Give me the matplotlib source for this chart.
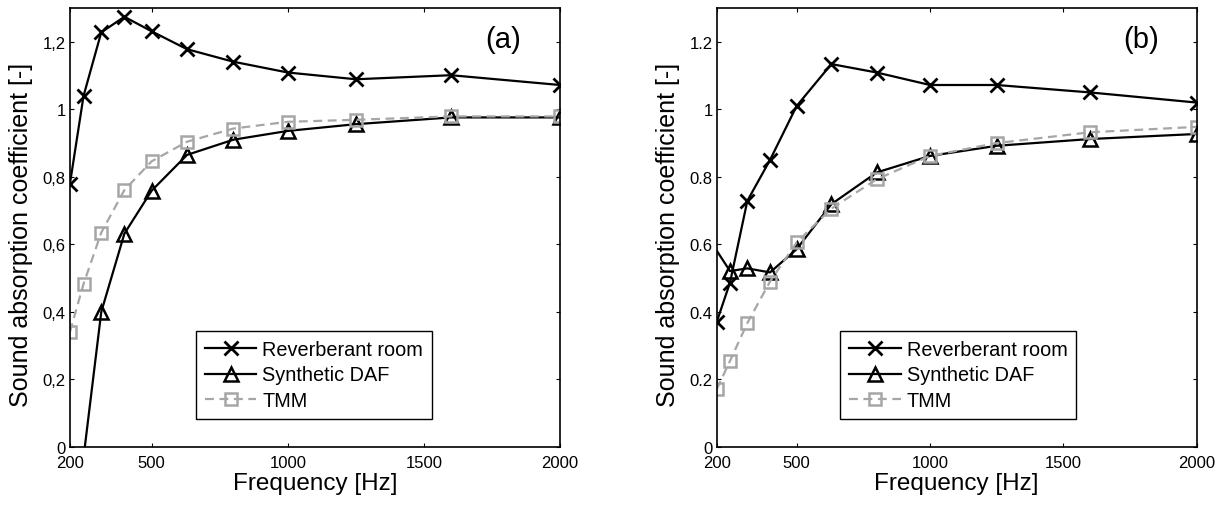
import numpy as np
import matplotlib
matplotlib.use("Agg")
from matplotlib import pyplot as plt

plt.rcParams['font.family'] = ['Liberation Sans', 'DejaVu Sans']

# 1/3-octave band centre frequencies
freqs = [200, 250, 315, 400, 500, 630, 800, 1000, 1250, 1600, 2000]
# DAF in (b) starts one band below the axis (no marker at 200 Hz)
freqs_daf_b = [160] + freqs[1:]

# (a)
reverb_a = [0.78, 1.04, 1.228, 1.274, 1.231, 1.178, 1.141, 1.109, 1.089, 1.101, 1.072]
daf_a = [-0.45, -0.03, 0.40, 0.632, 0.759, 0.865, 0.91, 0.936, 0.956, 0.976, 0.976]
tmm_a = [0.341, 0.483, 0.635, 0.761, 0.846, 0.904, 0.943, 0.963, 0.969, 0.979, 0.979]

# (b)
reverb_b = [0.370, 0.487, 0.729, 0.850, 1.010, 1.134, 1.109, 1.072, 1.072, 1.050, 1.020]
daf_b = [0.63, 0.521, 0.529, 0.517, 0.586, 0.719, 0.813, 0.862, 0.892, 0.912, 0.927]
tmm_b = [0.171, 0.255, 0.367, 0.490, 0.606, 0.706, 0.793, 0.862, 0.900, 0.932, 0.948]

xticks = [200, 500, 1000, 1500, 2000]
yticks = [0, 0.2, 0.4, 0.6, 0.8, 1.0, 1.2]
ylabels_a = ['0', '0,2', '0,4', '0,6', '0,8', '1', '1,2']
ylabels_b = ['0', '0.2', '0.4', '0.6', '0.8', '1', '1.2']

grey = '#a6a6a6'

fig = plt.figure(figsize=(12.23, 5.06), dpi=100)
ax_a = fig.add_axes([0.0572, 0.1146, 0.4007, 0.8676])
ax_b = fig.add_axes([0.586, 0.1146, 0.3925, 0.8676])


def draw(ax, rev, daf_x, daf, tmm, ylabels, tag, ylab_x):
    ax.plot(freqs, rev, color='black', lw=1.6, marker='x', ms=10, mew=2,
            label='Reverberant room')
    ax.plot(daf_x, daf, color='black', lw=1.6, marker='^', ms=10, mew=1.8,
            mfc='none', label='Synthetic DAF')
    ax.plot(freqs, tmm, color=grey, lw=1.6, ls='--', dashes=(4, 2.5),
            marker='s', ms=8, mew=1.8, mfc='none', label='TMM')
    ax.set_xlim(200, 2000)
    ax.set_ylim(0, 1.3)
    ax.set_xticks(xticks)
    ax.set_yticks(yticks)
    ax.set_yticklabels(ylabels)
    ax.tick_params(direction='in', length=3, width=0.8, labelsize=12,
                   top=True, right=True)
    ax.tick_params(axis='x', pad=6)
    ax.tick_params(axis='y', pad=3)
    for s in ax.spines.values():
        s.set_linewidth(1.2)
    ax.set_xlabel('Frequency [Hz]', fontsize=17.5)
    ax.xaxis.set_label_coords(0.5, -0.058)
    ax.set_ylabel('Sound absorption coefficient [-]', fontsize=18)
    ax.yaxis.set_label_coords(ylab_x, 0.485)
    ax.text(0.884, 0.929, tag, transform=ax.transAxes, fontsize=21,
            ha='center', va='center')
    leg = ax.legend(loc='lower left', bbox_to_anchor=(0.257, 0.063),
                    borderaxespad=0, fontsize=14.3, handlelength=2.6,
                    handletextpad=0.3, labelspacing=0.35, borderpad=0.45,
                    fancybox=False, framealpha=1, edgecolor='black')
    leg.get_frame().set_linewidth(1.0)


draw(ax_a, reverb_a, freqs, daf_a, tmm_a, ylabels_a, '(a)', -0.0755)
draw(ax_b, reverb_b, freqs_daf_b, daf_b, tmm_b, ylabels_b, '(b)', -0.0765)

fig.savefig('out.png', dpi=100)
